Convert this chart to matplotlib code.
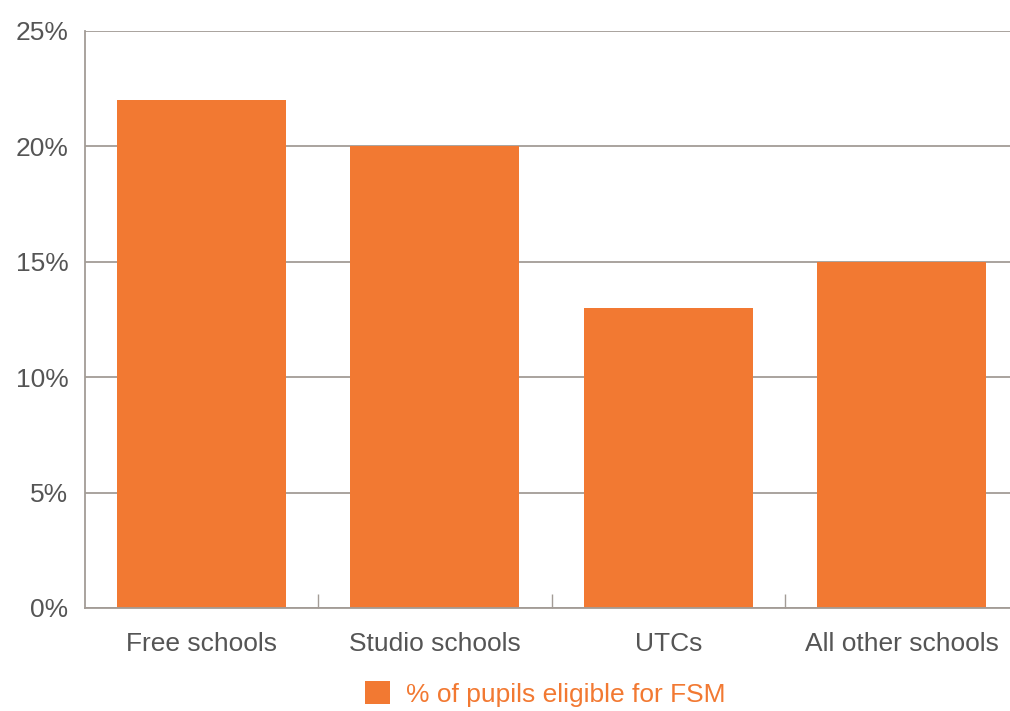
import matplotlib.pyplot as plt
from matplotlib.ticker import FixedLocator, NullFormatter

plt.rcParams['font.family'] = ['Liberation Sans', 'DejaVu Sans']

# Datos
categorias = ['Free schools', 'Studio schools', 'UTCs', 'All other schools']
valores = [22, 20, 13, 15]
serie = '% of pupils eligible for FSM'

naranja = '#F27932'
gris_texto = '#555555'
gris_linea = '#A39C96'

fig = plt.figure(figsize=(10.1, 7.11), dpi=100)
# el eje se sale un poco por la derecha, como en el original
ax = fig.add_axes([0.0842, 0.1449, 1.008 - 0.0842, 0.9564 - 0.1449])

x = list(range(len(categorias)))
barras = ax.bar(x, valores, width=0.725, color=naranja, zorder=2, label=serie)

ax.set_xlim(-0.5, len(categorias) - 0.5)
ax.set_ylim(0, 25)
ax.set_yticks([0, 5, 10, 15, 20, 25])
ax.set_yticklabels([f'{v}%' for v in [0, 5, 10, 15, 20, 25]])
ax.yaxis.grid(True, color=gris_linea, linewidth=1.3, zorder=0)
ax.set_axisbelow(True)

# Etiquetas centradas, marcas entre categorias
ax.set_xticks(x)
ax.set_xticklabels(categorias)
ax.tick_params(axis='x', which='major', length=0, pad=17, labelsize=19, labelcolor=gris_texto)
ax.xaxis.set_minor_locator(FixedLocator([0.5, 1.5, 2.5]))
ax.xaxis.set_minor_formatter(NullFormatter())
ax.tick_params(axis='x', which='minor', direction='in', length=10, width=1, color=gris_linea)
ax.tick_params(axis='y', length=0, pad=12, labelsize=19, labelcolor=gris_texto)

for lado in ['top', 'right']:
    ax.spines[lado].set_visible(False)
for lado in ['left', 'bottom']:
    ax.spines[lado].set_color(gris_linea)
    ax.spines[lado].set_linewidth(1.3)

leg = fig.legend(handles=[barras], labels=[serie], loc='center',
                 bbox_to_anchor=(545 / 1010, 1 - 694 / 711), frameon=False,
                 fontsize=19, handlelength=0.95, handleheight=0.95, handletextpad=0.6,
                 borderpad=0, borderaxespad=0)
for t in leg.get_texts():
    t.set_color(naranja)

fig.savefig('out.png', dpi=100)
